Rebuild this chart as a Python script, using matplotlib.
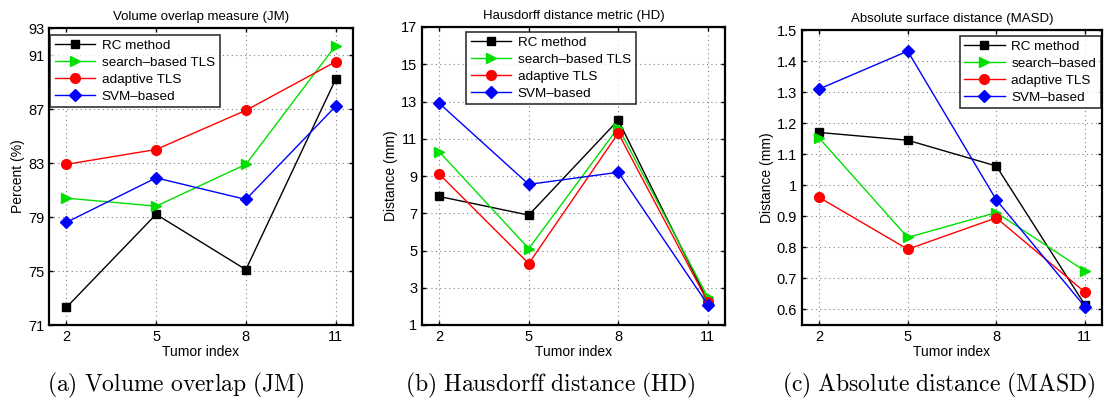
import matplotlib
matplotlib.use("Agg")
import matplotlib.pyplot as plt

plt.rcParams['font.family'] = ['Liberation Sans', 'DejaVu Sans']
plt.rcParams['mathtext.fontset'] = 'cm'

tumor_index = [2, 5, 8, 11]

# Volume overlap (JM), percent
jm_rc = [72.3, 79.2, 75.1, 89.2]
jm_search = [80.4, 79.8, 82.9, 91.7]
jm_adaptive = [82.9, 84.0, 86.9, 90.5]
jm_svm = [78.6, 81.9, 80.3, 87.2]

# Hausdorff distance (HD), mm
hd_rc = [7.9, 6.9, 12.0, 2.3]
hd_search = [10.3, 5.1, 11.6, 2.5]
hd_adaptive = [9.1, 4.3, 11.3, 2.25]
hd_svm = [12.9, 8.55, 9.2, 2.1]

# Absolute surface distance (MASD), mm
masd_rc = [1.17, 1.145, 1.062, 0.615]
masd_search = [1.152, 0.832, 0.912, 0.724]
masd_adaptive = [0.961, 0.794, 0.895, 0.656]
masd_svm = [1.31, 1.432, 0.953, 0.609]

jm_yticks = [71, 75, 79, 83, 87, 91, 93]
hd_yticks = [1, 3, 5, 7, 9, 11, 13, 15, 17]
masd_yticks = [0.6, 0.7, 0.8, 0.9, 1.0, 1.1, 1.2, 1.3, 1.4, 1.5]
masd_yticklabels = ['0.6', '0.7', '0.8', '0.9', '1', '1.1', '1.2', '1.3', '1.4', '1.5']

titles = ['Volume overlap measure (JM)', 'Hausdorff distance metric (HD)',
          'Absolute surface distance (MASD)']
ylabels = ['Percent (%)', 'Distance (mm)', 'Distance (mm)']
captions = ['(a) Volume overlap (JM)', '(b) Hausdorff distance (HD)',
            '(c) Absolute distance (MASD)']
legend_sets = [
    ['RC method', 'search\u2013based TLS', 'adaptive TLS', 'SVM\u2013based'],
    ['RC method', 'search\u2013based TLS', 'adaptive TLS', 'SVM\u2013based'],
    ['RC method', 'search\u2013based', 'adaptive TLS', 'SVM\u2013based'],
]

styles = [
    dict(color='black', marker='s', ms=6),
    dict(color='#00e000', marker='>', ms=7),
    dict(color='red', marker='o', ms=7),
    dict(color='blue', marker='D', ms=6),
]

fig = plt.figure(figsize=(11.16, 4.07), dpi=100)
W, H = 1116.0, 407.0
boxes = [(49, 353, 28, 325), (422, 725, 27, 325), (802, 1102, 30, 325)]

panels = [
    ([jm_rc, jm_search, jm_adaptive, jm_svm], (71, 93), jm_yticks, None),
    ([hd_rc, hd_search, hd_adaptive, hd_svm], (1, 17), hd_yticks, None),
    ([masd_rc, masd_search, masd_adaptive, masd_svm], (0.55, 1.5), masd_yticks, masd_yticklabels),
]
legend_anchor = [(50, 35), (466, 32), (1101, 36)]
legend_loc = ['upper left', 'upper left', 'upper right']

for i, (series, ylim, yt, ytl) in enumerate(panels):
    l, r, t, b = boxes[i]
    ax = fig.add_axes([l / W, 1 - b / H, (r - l) / W, (b - t) / H])
    for s, lab, st in zip(series, legend_sets[i], styles):
        ax.plot(tumor_index, s, color=st['color'], marker=st['marker'],
                markersize=st['ms'], markerfacecolor=st['color'],
                markeredgecolor=st['color'], lw=1.0, label=lab)
    ax.set_xlim(1.42, 11.58)
    ax.set_ylim(*ylim)
    ax.set_xticks(tumor_index)
    ax.set_yticks(yt)
    if ytl is not None:
        ax.set_yticklabels(ytl)
    ax.grid(True, linestyle=(0, (1, 3)), color='#808080', linewidth=0.8)
    ax.tick_params(direction='in', top=True, right=True, labelsize=10.5,
                   length=3, width=1)
    for sp in ax.spines.values():
        sp.set_linewidth(1.6)
    ax.set_title(titles[i], fontsize=9.5, pad=6)
    ax.set_xlabel('Tumor index', fontsize=10, labelpad=1)
    ax.set_ylabel(ylabels[i], fontsize=10, labelpad=2)
    ax_x, ax_y = legend_anchor[i]
    leg = ax.legend(loc=legend_loc[i], bbox_to_anchor=(ax_x / W, 1 - ax_y / H),
                    bbox_transform=fig.transFigure, fontsize=9.7,
                    frameon=True, fancybox=False, handlelength=3.0,
                    borderpad=0.35, labelspacing=0.33, handletextpad=0.5,
                    borderaxespad=0)
    leg.get_frame().set_edgecolor('black')
    leg.get_frame().set_linewidth(1.2)

caption_x = [176, 550, 939]
for cx, cap in zip(caption_x, captions):
    txt = r'$\mathrm{' + cap.replace(' ', r'\ ') + '}$'
    fig.text(cx / W, 1 - 385 / H, txt, ha='center', va='center', fontsize=17)

fig.savefig('out.png', dpi=100)
